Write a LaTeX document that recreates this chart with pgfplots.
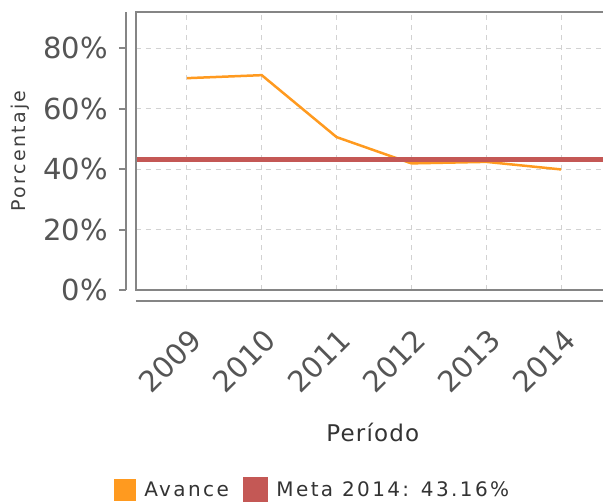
\documentclass[border=0pt]{standalone}
\usepackage{fontspec}
\setmainfont{DejaVu Sans}
\newfontfamily\spaced[LetterSpace=12]{DejaVu Sans}
\newfontfamily\spacedb[LetterSpace=5]{DejaVu Sans}
\usepackage{pgfplots}
\pgfplotsset{compat=1.18}
\definecolor{avance}{HTML}{FF9A1F}
\definecolor{meta}{HTML}{C45855}
\definecolor{framec}{HTML}{858585}
\definecolor{tickc}{HTML}{555555}
\definecolor{gridc}{HTML}{D2D2D2}
\begin{document}
\begin{tikzpicture}
\path[use as bounding box] (-136pt,-212pt) rectangle (467pt,290pt);
\begin{axis}[
  at={(0pt,0pt)}, anchor=south west,
  scale only axis, width=467pt, height=278pt,
  xmin=-0.68, xmax=5.56, ymin=0, ymax=92,
  axis line style={draw=none},
  clip=false,
  xtick={0,1,2,3,4,5}, xticklabels={2009,2010,2011,2012,2013,2014},
  ytick={0,20,40,60,80}, yticklabels={0\%,20\%,40\%,60\%,80\%},
  major tick length=0pt,
  grid=major,
  major grid style={gridc, line width=0.9pt, dash pattern=on 5pt off 5pt},
  xticklabel style={font=\fontsize{29}{30}\selectfont, text=tickc, inner sep=0pt, xshift=9pt, yshift=-45pt, rotate=45, anchor=east},
  yticklabel style={font=\fontsize{29}{30}\selectfont, text=tickc, inner sep=0pt, xshift=-28pt, anchor=east},
  legend style={at={(0.378,-0.719)}, anchor=center, draw=none, fill=none,
    legend columns=-1, font=\spaced\fontsize{20}{22}\selectfont, text=black!80,
    /tikz/every odd column/.append style={column sep=6pt},
    /tikz/every even column/.append style={column sep=12pt}},
]
\addplot[avance, line width=2.5pt, legend image code/.code={\fill[avance] (0pt,-10pt) rectangle (20pt,10pt);}]
  coordinates {(0,70.1) (1,71.1) (2,50.6) (3,41.9) (4,42.4) (5,39.9)};
\addlegendentry{Avance}
\addplot[meta, line width=5.5pt, legend image code/.code={\fill[meta] (0pt,-10pt) rectangle (20pt,10pt);}]
  coordinates {(-0.68,43.16) (5.56,43.16)};
\addlegendentry{Meta 2014: 43.16\%}
\draw[framec, line width=2.2pt] (rel axis cs:1,1) -- (rel axis cs:0,1) -- (rel axis cs:0,0) -- (rel axis cs:1,0);
\draw[framec, line width=2.2pt] ([xshift=-10pt]rel axis cs:0,0) -- ([xshift=-10pt]rel axis cs:0,1);
\draw[framec, line width=2.2pt] ([yshift=-11pt]rel axis cs:0,0) -- ([yshift=-11pt]rel axis cs:1,0);
\pgfplotsinvokeforeach{0,20,40,60,80}{
  \draw[framec, line width=2pt] ([xshift=-17pt]axis cs:-0.68,#1) -- ([xshift=-10pt]axis cs:-0.68,#1);
}
\node[rotate=90, font=\spaced\fontsize{19}{20}\selectfont, text=black!75] at ([xshift=-116pt]axis description cs:0,0.5) {Porcentaje};
\node[font=\spacedb\fontsize{23}{24}\selectfont, text=black!80] at ([yshift=-142pt]axis description cs:0.507,0) {Período};
\end{axis}
\end{tikzpicture}
\end{document}
